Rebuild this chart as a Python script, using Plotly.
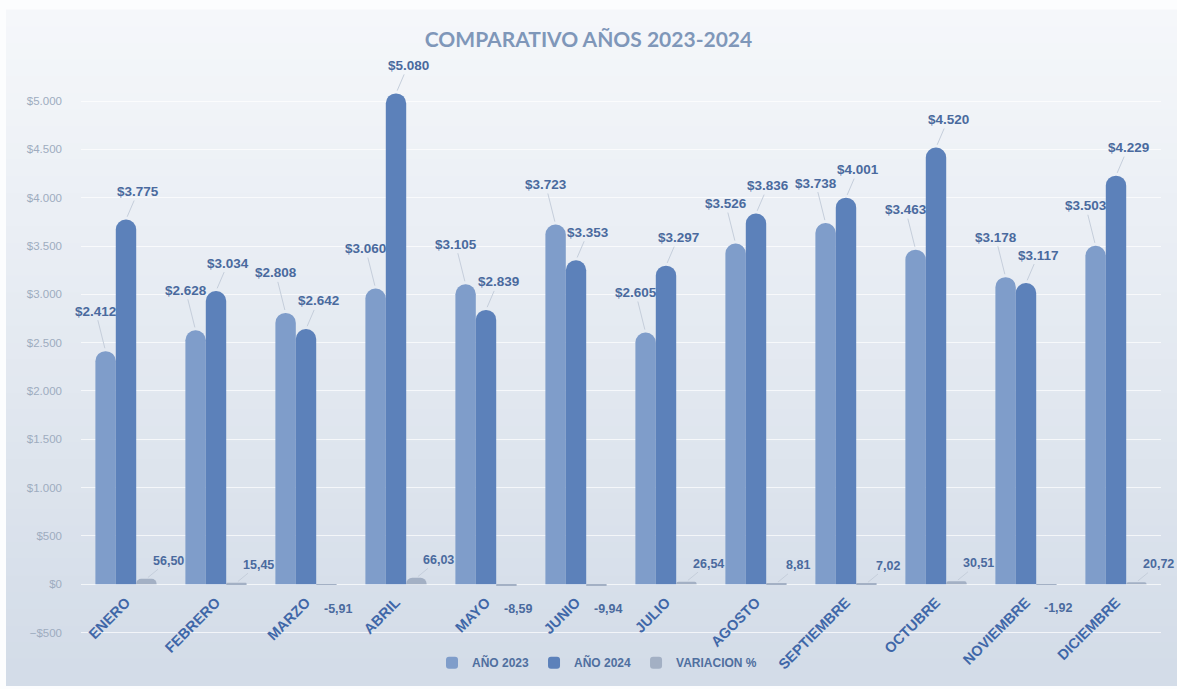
import plotly.graph_objects as go

months = ["ENERO", "FEBRERO", "MARZO", "ABRIL", "MAYO", "JUNIO", "JULIO",
          "AGOSTO", "SEPTIEMBRE", "OCTUBRE", "NOVIEMBRE", "DICIEMBRE"]
y2023 = [2412, 2628, 2808, 3060, 3105, 3723, 2605, 3526, 3738, 3463, 3178, 3503]
y2024 = [3775, 3034, 2642, 5080, 2839, 3353, 3297, 3836, 4001, 4520, 3117, 4229]
variacion = [56.50, 15.45, -5.91, 66.03, -8.59, -9.94, 26.54, 8.81, 7.02, 30.51, -1.92, 20.72]
y_ticks = [-500, 0, 500, 1000, 1500, 2000, 2500, 3000, 3500, 4000, 4500, 5000]

W, H = 1177, 689
ML, MR, MT, MB = 81, 16, 77, 29
PW, PH = W - ML - MR, H - MT - MB
YMIN, YMAX = -650, 5250
BARGAP = 0.32
bw = (1 - BARGAP) / 3

C23 = "#7f9dca"
C24 = "#5c81ba"
CVAR = "#a3b0c4"
LABEL = "#4a6a9e"

fig = go.Figure()
fig.add_trace(go.Bar(name="AÑO 2023", x=months, y=y2023, marker=dict(color=C23, line=dict(width=0))))
fig.add_trace(go.Bar(name="AÑO 2024", x=months, y=y2024, marker=dict(color=C24, line=dict(width=0))))
fig.add_trace(go.Bar(name="VARIACION %", x=months, y=variacion, marker=dict(color=CVAR, line=dict(width=0))))

# background gradient (decorative)
shapes = []
nb = 40
top_c = (246, 248, 251)
bot_c = (211, 220, 232)
for k in range(nb):
    t0 = k / nb
    t1 = (k + 1) / nb
    tm = (t0 + t1) / 2
    c = tuple(int(top_c[j] + (bot_c[j] - top_c[j]) * tm) for j in range(3))
    py0 = 8 + t0 * (H - 8)
    py1 = 8 + t1 * (H - 8) + 1
    shapes.append(dict(type="rect", xref="paper", yref="paper", layer="below",
                       x0=(6 - ML) / PW, x1=(W + 10 - ML) / PW,
                       y0=(H - MB - py1 - (10 if k == nb - 1 else 0)) / PH, y1=(H - MB - py0) / PH,
                       fillcolor="rgb(%d,%d,%d)" % c, line=dict(width=0)))

annotations = []
fmt = lambda v: "$" + "{:,}".format(v).replace(",", ".")
lf = dict(family="Liberation Sans", size=13.5, color=LABEL, weight="bold")
vf = dict(family="Liberation Sans", size=12.5, color=LABEL, weight="bold")
for i, m in enumerate(months):
    annotations.append(dict(x=i - bw, y=y2023[i], xref="x", yref="y", text=fmt(y2023[i]),
                            showarrow=True, arrowhead=0, arrowwidth=1, arrowcolor="#c5cedb",
                            ax=-10, ay=-40, standoff=3, font=lf))
    annotations.append(dict(x=i, y=y2024[i], xref="x", yref="y", text=fmt(y2024[i]),
                            showarrow=True, arrowhead=0, arrowwidth=1, arrowcolor="#c5cedb",
                            ax=12, ay=-28, standoff=3, font=lf))
    v = variacion[i]
    vt = "{:.2f}".format(v).replace(".", ",")
    if v >= 0:
        annotations.append(dict(x=i + bw, y=v, xref="x", yref="y", text=vt,
                                showarrow=True, arrowhead=0, arrowwidth=1, arrowcolor="#c5cedb",
                                ax=22, ay=-18, standoff=2, font=vf))
    else:
        annotations.append(dict(x=i + bw, y=v, xref="x", yref="y", text=vt,
                                showarrow=False, yshift=-24, xshift=12, font=vf))

fig.update_layout(
    width=W, height=H,
    margin=dict(l=ML, r=MR, t=MT, b=MB),
    paper_bgcolor="#fcfdfe",
    plot_bgcolor="rgba(0,0,0,0)",
    separators=",.",
    barmode="group",
    bargap=BARGAP,
    bargroupgap=0,
    barcornerradius="50%",
    title=dict(text="COMPARATIVO AÑOS 2023-2024", x=0.5, xref="container",
               y=1 - 40 / H, yref="container", yanchor="middle", xanchor="center",
               font=dict(family="Lato", size=21, color="#7f97b9", weight="bold")),
    xaxis=dict(
        type="category", tickangle=-45, showgrid=False, showline=False, ticks="",
        anchor="free", position=(0 - YMIN) / (YMAX - YMIN),
        ticklabelshift=0, ticklabelstandoff=6,
        tickfont=dict(family="Liberation Sans", size=14.5, color="#3f67a8", weight="bold"),
        range=[-0.5, len(months) - 0.5],
    ),
    yaxis=dict(
        range=[YMIN, YMAX], tickvals=y_ticks, tickformat="$,.0f",
        showgrid=True, gridcolor="rgba(255,255,255,0.7)", gridwidth=1,
        zeroline=False, showline=False, ticks="", ticklabelstandoff=18,
        tickfont=dict(family="Liberation Sans", size=11.5, color="#9eacbf"),
    ),
    legend=dict(orientation="h", x=(597 - ML) / PW, xanchor="center",
                y=-(676 - (H - MB)) / PH, yanchor="middle",
                bgcolor="rgba(0,0,0,0)", itemwidth=30,
                font=dict(family="Liberation Sans", size=12, color="#4f6f9f", weight="bold")),
    showlegend=True,
    shapes=shapes,
    annotations=annotations,
)

fig.write_html("out.html")
